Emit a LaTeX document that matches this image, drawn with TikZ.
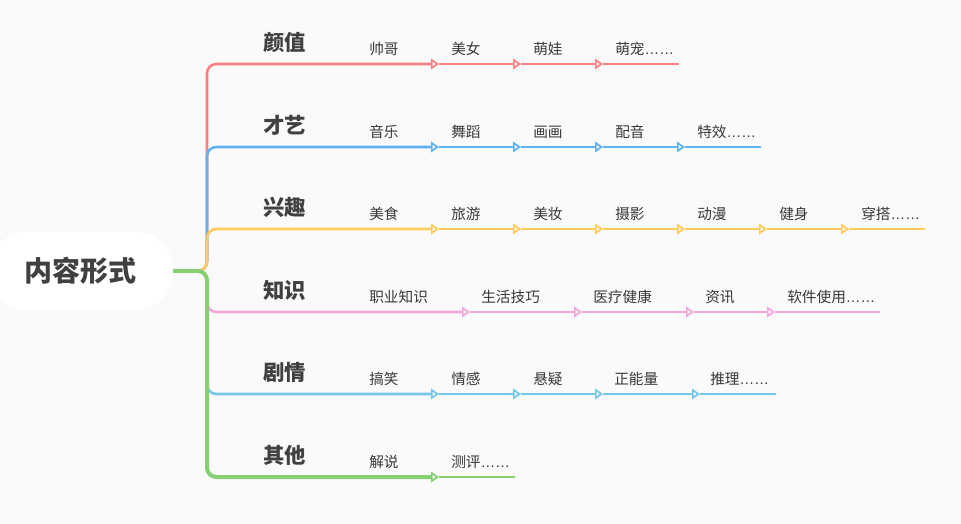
\documentclass[tikz,border=0pt]{standalone}
\usepackage{fontspec}
\setmainfont{Noto Sans CJK SC}
\newfontfamily\dotsfont{Liberation Sans}
\usetikzlibrary{arrows.meta}
\definecolor{bg}{HTML}{FAFAFA}
\definecolor{txt}{HTML}{404040}
\definecolor{subtxt}{HTML}{383838}
\definecolor{cred}{HTML}{FA7F80}
\definecolor{cblue}{HTML}{5FB3F2}
\definecolor{cyel}{HTML}{FFCB5A}
\definecolor{cpink}{HTML}{F3A6DE}
\definecolor{ccyan}{HTML}{73C7E8}
\definecolor{cgreen}{HTML}{86D071}
\newcommand\mydots{{\dotsfont ……}}
\tikzset{
  rootbox/.style={fill=white, rounded corners=28pt, minimum width=138pt, minimum height=58.5pt, inner sep=0,
    font=\fontsize{21}{25}\selectfont\bfseries, text=txt},
  topic/.style={anchor=west, inner sep=0, font=\fontsize{16}{19}\selectfont\bfseries, text=txt},
  sub/.style={anchor=west, inner sep=0, font=\fontsize{11}{13}\selectfont, text=subtxt},
  br/.style={line width=1.9pt, rounded corners=7pt},
  arr/.style={-{Triangle[open,length=6pt,width=8pt,line width=1.3pt]}}
}
\begin{document}
\begin{tikzpicture}[x=0.75pt,y=-0.75pt]
\useasboundingbox (0,0) rectangle (961,524);
\fill[bg] (0,0) rectangle (961,524);
\clip (0,0) rectangle (961,524);

\node[rootbox] (root) at (81,271) {内容形式};

% ---------- 颜值 (red) ----------
\coordinate (J1) at (207,64);
\coordinate (a11) at (439,64);
\coordinate (a12) at (521,64);
\coordinate (a13) at (603,64);
\coordinate (e1) at (679,64);
\draw[br,cred,arr] (root.east) -| (J1) -- (a11);
\draw[br,cred,arr] (a11) -- (a12);
\draw[br,cred,arr] (a12) -- (a13);
\draw[br,cred] (a13) -- (e1);
\node[topic] (k1) at (263,42) {颜值};
\node[sub] (t11) at (369,49) {帅哥};
\node[sub] (t12) at (451,49) {美女};
\node[sub] (t13) at (533,49) {萌娃};
\node[sub] (t14) at (615,49) {萌宠\mydots};

% ---------- 才艺 (blue) ----------
\coordinate (J2) at (207,147);
\coordinate (a21) at (439,147);
\coordinate (a22) at (521,147);
\coordinate (a23) at (603,147);
\coordinate (a24) at (685,147);
\coordinate (e2) at (761,147);
\draw[br,cblue,arr] (root.east) -| (J2) -- (a21);
\draw[br,cblue,arr] (a21) -- (a22);
\draw[br,cblue,arr] (a22) -- (a23);
\draw[br,cblue,arr] (a23) -- (a24);
\draw[br,cblue] (a24) -- (e2);
\node[topic] (k2) at (263,125) {才艺};
\node[sub] (t21) at (369,132) {音乐};
\node[sub] (t22) at (451,132) {舞蹈};
\node[sub] (t23) at (533,132) {画画};
\node[sub] (t24) at (615,132) {配音};
\node[sub] (t25) at (697,132) {特效\mydots};

% ---------- 兴趣 (yellow) ----------
\coordinate (J3) at (207,229);
\coordinate (a31) at (439,229);
\coordinate (a32) at (521,229);
\coordinate (a33) at (603,229);
\coordinate (a34) at (685,229);
\coordinate (a35) at (767,229);
\coordinate (a36) at (849,229);
\coordinate (e3) at (925,229);
\draw[br,cyel,arr] (root.east) -| (J3) -- (a31);
\draw[br,cyel,arr] (a31) -- (a32);
\draw[br,cyel,arr] (a32) -- (a33);
\draw[br,cyel,arr] (a33) -- (a34);
\draw[br,cyel,arr] (a34) -- (a35);
\draw[br,cyel,arr] (a35) -- (a36);
\draw[br,cyel] (a36) -- (e3);
\node[topic] (k3) at (263,207) {兴趣};
\node[sub] (t31) at (369,214) {美食};
\node[sub] (t32) at (451,214) {旅游};
\node[sub] (t33) at (533,214) {美妆};
\node[sub] (t34) at (615,214) {摄影};
\node[sub] (t35) at (697,214) {动漫};
\node[sub] (t36) at (779,214) {健身};
\node[sub] (t37) at (861,214) {穿搭\mydots};

% ---------- 知识 (pink) ----------
\coordinate (J4) at (207,312);
\coordinate (a41) at (470,312);
\coordinate (a42) at (582,312);
\coordinate (a43) at (694,312);
\coordinate (a44) at (775,312);
\coordinate (e4) at (880,312);
\draw[br,cpink,arr] (root.east) -| (J4) -- (a41);
\draw[br,cpink,arr] (a41) -- (a42);
\draw[br,cpink,arr] (a42) -- (a43);
\draw[br,cpink,arr] (a43) -- (a44);
\draw[br,cpink] (a44) -- (e4);
\node[topic] (k4) at (263,290) {知识};
\node[sub] (t41) at (369,297) {职业知识};
\node[sub] (t42) at (481,297) {生活技巧};
\node[sub] (t43) at (593,297) {医疗健康};
\node[sub] (t44) at (705,297) {资讯};
\node[sub] (t45) at (787,297) {软件使用\mydots};

% ---------- 剧情 (cyan) ----------
\coordinate (J5) at (207,394);
\coordinate (a51) at (439,394);
\coordinate (a52) at (521,394);
\coordinate (a53) at (603,394);
\coordinate (a54) at (700,394);
\coordinate (e5) at (776,394);
\draw[br,ccyan,arr] (root.east) -| (J5) -- (a51);
\draw[br,ccyan,arr] (a51) -- (a52);
\draw[br,ccyan,arr] (a52) -- (a53);
\draw[br,ccyan,arr] (a53) -- (a54);
\draw[br,ccyan] (a54) -- (e5);
\node[topic] (k5) at (263,372) {剧情};
\node[sub] (t51) at (369,379) {搞笑};
\node[sub] (t52) at (451,379) {情感};
\node[sub] (t53) at (533,379) {悬疑};
\node[sub] (t54) at (614,379) {正能量};
\node[sub] (t55) at (710,379) {推理\mydots};

% ---------- 其他 (green) ----------
\coordinate (J6) at (207,477);
\coordinate (a61) at (439,477);
\coordinate (e6) at (515,477);
\draw[br,cgreen,line width=3pt,arr] (root.east) -| (J6) -- (a61);
\draw[br,cgreen] (a61) -- (e6);
\node[topic] (k6) at (263,455) {其他};
\node[sub] (t61) at (369,462) {解说};
\node[sub] (t62) at (451,462) {测评\mydots};
\end{tikzpicture}
\end{document}
